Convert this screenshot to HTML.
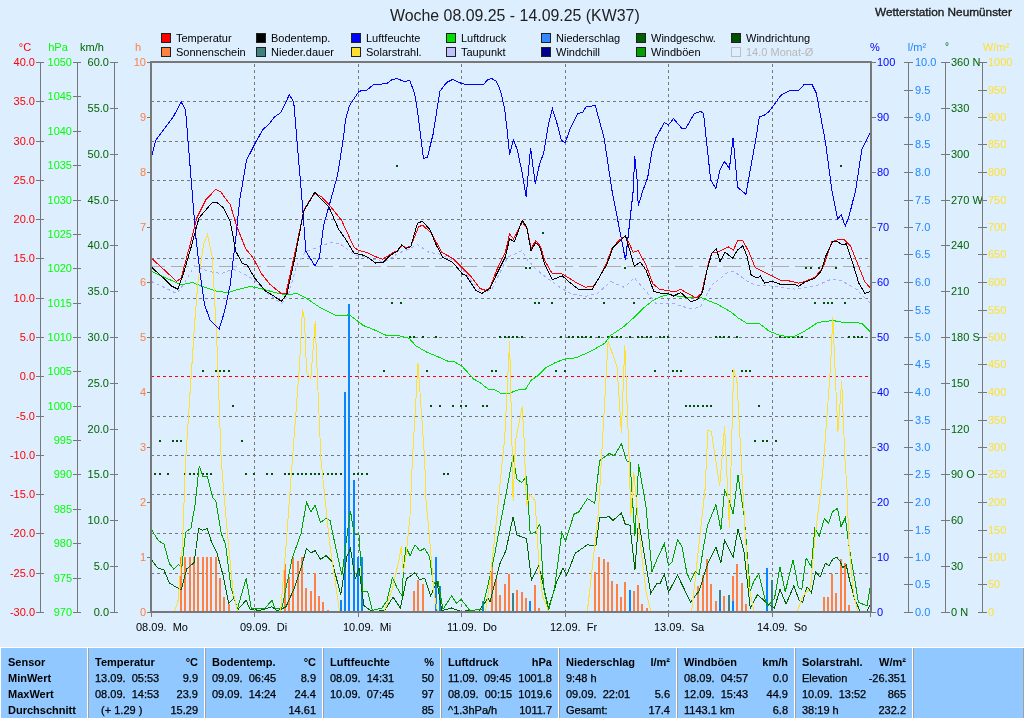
<!DOCTYPE html>
<html><head><meta charset="utf-8"><style>
html,body{margin:0;padding:0;width:1024px;height:718px;overflow:hidden;background:#DDEEFF;}
svg{position:absolute;left:0;top:0;font-family:"Liberation Sans",sans-serif;will-change:transform;}
</style></head><body>
<svg width="1024" height="718" viewBox="0 0 1024 718">
<path d="M151 101.5H870 M151 141.5H870 M151 180.5H870 M151 219.5H870 M151 258.5H870 M151 298.5H870 M151 337.5H870 M151 416.5H870 M151 455.5H870 M151 494.5H870 M151 533.5H870 M151 573.5H870" stroke="#787878" stroke-width="1" stroke-dasharray="3 3" fill="none"/><path d="M151 376.5H870" stroke="#FF0000" stroke-width="1" stroke-dasharray="3 3" fill="none"/><path d="M254.5 64V611 M358.5 64V611 M461.5 64V611 M565.5 64V611 M668.5 64V611 M772.5 64V611" stroke="#787878" stroke-width="1" stroke-dasharray="3 3" fill="none"/><g shape-rendering="crispEdges"><rect x="180" y="557" width="2" height="54" fill="#FF8040"/><rect x="184" y="557" width="2" height="54" fill="#FF8040"/><rect x="189" y="557" width="2" height="54" fill="#FF8040"/><rect x="193" y="557" width="2" height="54" fill="#FF8040"/><rect x="197" y="557" width="2" height="54" fill="#FF8040"/><rect x="202" y="557" width="2" height="54" fill="#FF8040"/><rect x="206" y="557" width="2" height="54" fill="#FF8040"/><rect x="210" y="557" width="2" height="54" fill="#FF8040"/><rect x="215" y="557" width="2" height="54" fill="#FF8040"/><rect x="219" y="578" width="2" height="33" fill="#FF8040"/><rect x="223" y="597" width="2" height="14" fill="#FF8040"/><rect x="228" y="604" width="2" height="7" fill="#FF8040"/><rect x="284" y="564" width="2" height="47" fill="#FF8040"/><rect x="288" y="577" width="2" height="34" fill="#FF8040"/><rect x="292" y="557" width="2" height="54" fill="#FF8040"/><rect x="297" y="561" width="2" height="50" fill="#FF8040"/><rect x="301" y="557" width="2" height="54" fill="#FF8040"/><rect x="305" y="588" width="2" height="23" fill="#FF8040"/><rect x="310" y="591" width="2" height="20" fill="#FF8040"/><rect x="314" y="573" width="2" height="38" fill="#FF8040"/><rect x="318" y="596" width="2" height="15" fill="#FF8040"/><rect x="322" y="602" width="2" height="9" fill="#FF8040"/><rect x="327" y="610" width="2" height="1" fill="#FF8040"/><rect x="413" y="591" width="2" height="20" fill="#FF8040"/><rect x="417" y="580" width="2" height="31" fill="#FF8040"/><rect x="422" y="584" width="2" height="27" fill="#FF8040"/><rect x="491" y="562" width="2" height="49" fill="#FF8040"/><rect x="495" y="579" width="2" height="32" fill="#FF8040"/><rect x="499" y="595" width="2" height="16" fill="#FF8040"/><rect x="504" y="584" width="2" height="27" fill="#FF8040"/><rect x="508" y="574" width="2" height="37" fill="#FF8040"/><rect x="516" y="590" width="2" height="21" fill="#FF8040"/><rect x="521" y="592" width="2" height="19" fill="#FF8040"/><rect x="525" y="598" width="2" height="13" fill="#FF8040"/><rect x="534" y="585" width="2" height="26" fill="#FF8040"/><rect x="538" y="608" width="2" height="3" fill="#FF8040"/><rect x="594" y="572" width="2" height="39" fill="#FF8040"/><rect x="598" y="557" width="2" height="54" fill="#FF8040"/><rect x="603" y="559" width="2" height="52" fill="#FF8040"/><rect x="607" y="562" width="2" height="49" fill="#FF8040"/><rect x="611" y="581" width="2" height="30" fill="#FF8040"/><rect x="616" y="584" width="2" height="27" fill="#FF8040"/><rect x="620" y="597" width="2" height="14" fill="#FF8040"/><rect x="624" y="582" width="2" height="29" fill="#FF8040"/><rect x="629" y="590" width="2" height="21" fill="#FF8040"/><rect x="633" y="591" width="2" height="20" fill="#FF8040"/><rect x="637" y="585" width="2" height="26" fill="#FF8040"/><rect x="641" y="604" width="2" height="7" fill="#FF8040"/><rect x="646" y="608" width="2" height="3" fill="#FF8040"/><rect x="697" y="586" width="2" height="25" fill="#FF8040"/><rect x="702" y="575" width="2" height="36" fill="#FF8040"/><rect x="706" y="559" width="2" height="52" fill="#FF8040"/><rect x="710" y="584" width="2" height="27" fill="#FF8040"/><rect x="715" y="601" width="2" height="10" fill="#FF8040"/><rect x="723" y="596" width="2" height="15" fill="#FF8040"/><rect x="732" y="576" width="2" height="35" fill="#FF8040"/><rect x="736" y="564" width="2" height="47" fill="#FF8040"/><rect x="741" y="583" width="2" height="28" fill="#FF8040"/><rect x="745" y="604" width="2" height="7" fill="#FF8040"/><rect x="823" y="597" width="2" height="14" fill="#FF8040"/><rect x="827" y="597" width="2" height="14" fill="#FF8040"/><rect x="831" y="574" width="2" height="37" fill="#FF8040"/><rect x="835" y="593" width="2" height="18" fill="#FF8040"/><rect x="840" y="559" width="2" height="52" fill="#FF8040"/><rect x="844" y="563" width="2" height="48" fill="#FF8040"/><rect x="848" y="605" width="2" height="6" fill="#FF8040"/><rect x="512" y="593" width="2" height="18" fill="#408080"/><rect x="719" y="590" width="2" height="21" fill="#408080"/><rect x="728" y="595" width="2" height="16" fill="#408080"/><rect x="771" y="580" width="2" height="31" fill="#408080"/><rect x="340" y="600" width="2" height="11" fill="#0A84FF"/><rect x="344" y="392" width="2" height="219" fill="#0A84FF"/><rect x="348" y="304" width="2" height="307" fill="#0A84FF"/><rect x="353" y="480" width="2" height="131" fill="#0A84FF"/><rect x="357" y="557" width="2" height="54" fill="#0A84FF"/><rect x="361" y="557" width="2" height="54" fill="#0A84FF"/><rect x="435" y="557" width="2" height="54" fill="#0A84FF"/><rect x="439" y="586" width="2" height="25" fill="#0A84FF"/><rect x="482" y="601" width="2" height="10" fill="#0A84FF"/><rect x="529" y="601" width="2" height="10" fill="#0A84FF"/><rect x="629" y="590" width="2" height="21" fill="#0A84FF"/><rect x="719" y="601" width="2" height="10" fill="#0A84FF"/><rect x="732" y="601" width="2" height="10" fill="#0A84FF"/><rect x="766" y="568" width="2" height="43" fill="#0A84FF"/><rect x="396" y="165" width="2" height="2" fill="#005000"/><rect x="840" y="165" width="2" height="2" fill="#005000"/><rect x="542" y="232" width="2" height="2" fill="#005000"/><rect x="525" y="267" width="2" height="2" fill="#005000"/><rect x="529" y="267" width="2" height="2" fill="#005000"/><rect x="624" y="267" width="2" height="2" fill="#005000"/><rect x="805" y="267" width="2" height="2" fill="#005000"/><rect x="810" y="267" width="2" height="2" fill="#005000"/><rect x="818" y="267" width="2" height="2" fill="#005000"/><rect x="835" y="267" width="2" height="2" fill="#005000"/><rect x="391" y="302" width="2" height="2" fill="#005000"/><rect x="400" y="302" width="2" height="2" fill="#005000"/><rect x="534" y="302" width="2" height="2" fill="#005000"/><rect x="538" y="302" width="2" height="2" fill="#005000"/><rect x="551" y="302" width="2" height="2" fill="#005000"/><rect x="603" y="302" width="2" height="2" fill="#005000"/><rect x="633" y="302" width="2" height="2" fill="#005000"/><rect x="534" y="302" width="2" height="2" fill="#005000"/><rect x="551" y="302" width="2" height="2" fill="#005000"/><rect x="603" y="302" width="2" height="2" fill="#005000"/><rect x="633" y="302" width="2" height="2" fill="#005000"/><rect x="814" y="302" width="2" height="2" fill="#005000"/><rect x="823" y="302" width="2" height="2" fill="#005000"/><rect x="827" y="302" width="2" height="2" fill="#005000"/><rect x="831" y="302" width="2" height="2" fill="#005000"/><rect x="844" y="302" width="2" height="2" fill="#005000"/><rect x="409" y="336" width="2" height="2" fill="#005000"/><rect x="413" y="336" width="2" height="2" fill="#005000"/><rect x="422" y="336" width="2" height="2" fill="#005000"/><rect x="435" y="336" width="2" height="2" fill="#005000"/><rect x="499" y="336" width="2" height="2" fill="#005000"/><rect x="499" y="336" width="2" height="2" fill="#005000"/><rect x="504" y="336" width="2" height="2" fill="#005000"/><rect x="508" y="336" width="2" height="2" fill="#005000"/><rect x="512" y="336" width="2" height="2" fill="#005000"/><rect x="512" y="336" width="2" height="2" fill="#005000"/><rect x="516" y="336" width="2" height="2" fill="#005000"/><rect x="521" y="336" width="2" height="2" fill="#005000"/><rect x="560" y="336" width="2" height="2" fill="#005000"/><rect x="568" y="336" width="2" height="2" fill="#005000"/><rect x="572" y="336" width="2" height="2" fill="#005000"/><rect x="577" y="336" width="2" height="2" fill="#005000"/><rect x="581" y="336" width="2" height="2" fill="#005000"/><rect x="585" y="336" width="2" height="2" fill="#005000"/><rect x="590" y="336" width="2" height="2" fill="#005000"/><rect x="598" y="336" width="2" height="2" fill="#005000"/><rect x="607" y="336" width="2" height="2" fill="#005000"/><rect x="611" y="336" width="2" height="2" fill="#005000"/><rect x="616" y="336" width="2" height="2" fill="#005000"/><rect x="620" y="336" width="2" height="2" fill="#005000"/><rect x="629" y="336" width="2" height="2" fill="#005000"/><rect x="637" y="336" width="2" height="2" fill="#005000"/><rect x="641" y="336" width="2" height="2" fill="#005000"/><rect x="646" y="336" width="2" height="2" fill="#005000"/><rect x="650" y="336" width="2" height="2" fill="#005000"/><rect x="659" y="336" width="2" height="2" fill="#005000"/><rect x="663" y="336" width="2" height="2" fill="#005000"/><rect x="667" y="336" width="2" height="2" fill="#005000"/><rect x="663" y="336" width="2" height="2" fill="#005000"/><rect x="667" y="336" width="2" height="2" fill="#005000"/><rect x="715" y="336" width="2" height="2" fill="#005000"/><rect x="719" y="336" width="2" height="2" fill="#005000"/><rect x="723" y="336" width="2" height="2" fill="#005000"/><rect x="728" y="336" width="2" height="2" fill="#005000"/><rect x="736" y="336" width="2" height="2" fill="#005000"/><rect x="779" y="336" width="2" height="2" fill="#005000"/><rect x="784" y="336" width="2" height="2" fill="#005000"/><rect x="788" y="336" width="2" height="2" fill="#005000"/><rect x="792" y="336" width="2" height="2" fill="#005000"/><rect x="797" y="336" width="2" height="2" fill="#005000"/><rect x="801" y="336" width="2" height="2" fill="#005000"/><rect x="848" y="336" width="2" height="2" fill="#005000"/><rect x="853" y="336" width="2" height="2" fill="#005000"/><rect x="857" y="336" width="2" height="2" fill="#005000"/><rect x="861" y="336" width="2" height="2" fill="#005000"/><rect x="202" y="370" width="2" height="2" fill="#005000"/><rect x="215" y="370" width="2" height="2" fill="#005000"/><rect x="219" y="370" width="2" height="2" fill="#005000"/><rect x="223" y="370" width="2" height="2" fill="#005000"/><rect x="228" y="370" width="2" height="2" fill="#005000"/><rect x="383" y="370" width="2" height="2" fill="#005000"/><rect x="417" y="370" width="2" height="2" fill="#005000"/><rect x="426" y="370" width="2" height="2" fill="#005000"/><rect x="491" y="370" width="2" height="2" fill="#005000"/><rect x="495" y="370" width="2" height="2" fill="#005000"/><rect x="491" y="370" width="2" height="2" fill="#005000"/><rect x="495" y="370" width="2" height="2" fill="#005000"/><rect x="555" y="370" width="2" height="2" fill="#005000"/><rect x="564" y="370" width="2" height="2" fill="#005000"/><rect x="654" y="370" width="2" height="2" fill="#005000"/><rect x="672" y="370" width="2" height="2" fill="#005000"/><rect x="676" y="370" width="2" height="2" fill="#005000"/><rect x="680" y="370" width="2" height="2" fill="#005000"/><rect x="732" y="370" width="2" height="2" fill="#005000"/><rect x="741" y="370" width="2" height="2" fill="#005000"/><rect x="745" y="370" width="2" height="2" fill="#005000"/><rect x="749" y="370" width="2" height="2" fill="#005000"/><rect x="232" y="405" width="2" height="2" fill="#005000"/><rect x="430" y="405" width="2" height="2" fill="#005000"/><rect x="439" y="405" width="2" height="2" fill="#005000"/><rect x="452" y="405" width="2" height="2" fill="#005000"/><rect x="460" y="405" width="2" height="2" fill="#005000"/><rect x="465" y="405" width="2" height="2" fill="#005000"/><rect x="482" y="405" width="2" height="2" fill="#005000"/><rect x="486" y="405" width="2" height="2" fill="#005000"/><rect x="685" y="405" width="2" height="2" fill="#005000"/><rect x="689" y="405" width="2" height="2" fill="#005000"/><rect x="693" y="405" width="2" height="2" fill="#005000"/><rect x="697" y="405" width="2" height="2" fill="#005000"/><rect x="702" y="405" width="2" height="2" fill="#005000"/><rect x="706" y="405" width="2" height="2" fill="#005000"/><rect x="710" y="405" width="2" height="2" fill="#005000"/><rect x="758" y="405" width="2" height="2" fill="#005000"/><rect x="870" y="405" width="2" height="2" fill="#005000"/><rect x="159" y="440" width="2" height="2" fill="#005000"/><rect x="172" y="440" width="2" height="2" fill="#005000"/><rect x="176" y="440" width="2" height="2" fill="#005000"/><rect x="180" y="440" width="2" height="2" fill="#005000"/><rect x="241" y="440" width="2" height="2" fill="#005000"/><rect x="754" y="440" width="2" height="2" fill="#005000"/><rect x="762" y="440" width="2" height="2" fill="#005000"/><rect x="766" y="440" width="2" height="2" fill="#005000"/><rect x="775" y="440" width="2" height="2" fill="#005000"/><rect x="154" y="473" width="2" height="2" fill="#005000"/><rect x="159" y="473" width="2" height="2" fill="#005000"/><rect x="167" y="473" width="2" height="2" fill="#005000"/><rect x="184" y="473" width="2" height="2" fill="#005000"/><rect x="189" y="473" width="2" height="2" fill="#005000"/><rect x="193" y="473" width="2" height="2" fill="#005000"/><rect x="197" y="473" width="2" height="2" fill="#005000"/><rect x="202" y="473" width="2" height="2" fill="#005000"/><rect x="206" y="473" width="2" height="2" fill="#005000"/><rect x="210" y="473" width="2" height="2" fill="#005000"/><rect x="245" y="473" width="2" height="2" fill="#005000"/><rect x="253" y="473" width="2" height="2" fill="#005000"/><rect x="266" y="473" width="2" height="2" fill="#005000"/><rect x="271" y="473" width="2" height="2" fill="#005000"/><rect x="284" y="473" width="2" height="2" fill="#005000"/><rect x="288" y="473" width="2" height="2" fill="#005000"/><rect x="292" y="473" width="2" height="2" fill="#005000"/><rect x="297" y="473" width="2" height="2" fill="#005000"/><rect x="301" y="473" width="2" height="2" fill="#005000"/><rect x="305" y="473" width="2" height="2" fill="#005000"/><rect x="310" y="473" width="2" height="2" fill="#005000"/><rect x="314" y="473" width="2" height="2" fill="#005000"/><rect x="318" y="473" width="2" height="2" fill="#005000"/><rect x="322" y="473" width="2" height="2" fill="#005000"/><rect x="327" y="473" width="2" height="2" fill="#005000"/><rect x="322" y="473" width="2" height="2" fill="#005000"/><rect x="327" y="473" width="2" height="2" fill="#005000"/><rect x="331" y="473" width="2" height="2" fill="#005000"/><rect x="335" y="473" width="2" height="2" fill="#005000"/><rect x="340" y="473" width="2" height="2" fill="#005000"/><rect x="353" y="473" width="2" height="2" fill="#005000"/><rect x="357" y="473" width="2" height="2" fill="#005000"/><rect x="361" y="473" width="2" height="2" fill="#005000"/><rect x="366" y="473" width="2" height="2" fill="#005000"/><rect x="443" y="473" width="2" height="2" fill="#005000"/><rect x="447" y="473" width="2" height="2" fill="#005000"/></g><path d="M152 266.5H870" stroke="#B4ACA4" stroke-width="1" stroke-dasharray="18 6" stroke-dashoffset="5" fill="none" shape-rendering="crispEdges"/><polyline points="151.1,559.3 157.6,567.9 164.0,570.1 169.4,583.0 174.8,586.3 181.3,589.5 186.7,569.0 194.2,562.5 198.6,528.6 202.9,530.2 207.2,528.6 211.5,542.0 216.9,552.8 223.4,576.6 228.8,603.5 234.2,598.1 237.4,610.0 246.1,600.3 250.4,610.0 254.7,608.9 257.9,611.0 272.0,606.8 277.3,611.0 286.0,606.8 294.6,587.3 301.1,568.0 306.5,548.5 310.8,552.8 315.1,550.7 320.5,559.3 326.1,555.7 332.2,561.8 340.7,594.7 346.8,556.9 350.4,548.4 355.3,578.8 359.0,567.9 363.8,605.6 372.4,611.7 384.5,610.5 393.1,597.1 400.4,608.0 406.5,578.8 415.0,572.7 419.9,580.0 424.7,578.0 430.8,595.9 436.9,581.3 441.8,610.5 451.5,608.0 461.3,611.7 468.6,610.5 478.3,611.7 488.0,598.3 490.0,602.0 499.7,564.2 505.8,550.8 513.1,516.7 516.8,535.0 526.5,538.6 531.4,580.0 538.7,565.4 548.5,608.0 557.0,581.3 563.1,567.9 566.7,575.2 575.2,553.3 587.4,544.7 595.9,546.0 599.6,517.9 609.3,516.7 613.0,520.4 621.5,513.1 625.2,524.0 630.0,525.2 634.9,570.3 638.6,520.4 650.7,593.4 656.8,583.7 660.0,583.8 664.4,574.0 668.5,592.3 677.5,575.2 690.5,602.0 699.0,591.1 707.5,564.3 716.0,547.2 720.9,563.0 724.6,539.9 733.1,557.0 738.0,528.9 744.1,552.1 750.2,608.1 757.5,594.7 767.2,603.3 774.5,608.1 780.0,589.3 786.1,604.1 793.9,585.8 799.2,600.6 802.6,602.4 807.0,586.7 811.4,592.8 815.7,571.9 820.1,577.1 825.3,563.2 828.8,565.8 833.1,558.8 836.6,557.1 840.1,561.4 842.7,567.5 846.2,564.9 849.7,580.6 854.9,599.8 860.1,611.1 867.1,611.1 870.6,604.1" fill="none" stroke="#006400" stroke-width="1" stroke-linejoin="miter" shape-rendering="crispEdges" /><polyline points="151.1,529.1 158.6,540.9 164.0,544.2 169.4,563.6 173.7,569.0 178.1,564.7 181.9,566.8 185.6,532.3 191.0,528.0 195.3,503.2 199.2,466.0 202.9,476.2 207.2,476.2 212.6,497.8 215.8,501.0 221.2,533.4 225.5,544.2 230.9,587.3 237.4,608.9 246.1,578.3 251.4,608.9 255.8,608.9 264.4,608.9 272.0,600.3 275.2,608.9 281.7,608.9 292.5,557.1 301.1,533.4 306.5,502.1 310.8,511.8 315.1,505.3 320.5,522.6 325.9,518.3 330.0,520.4 334.6,542.3 341.9,575.2 346.8,537.4 350.4,510.6 354.1,533.8 359.0,535.0 362.6,591.0 367.5,591.0 372.4,610.5 382.1,608.0 387.0,600.7 392.4,577.7 397.2,588.0 402.0,596.0 403.6,567.0 406.0,547.3 410.1,555.7 415.0,544.7 419.9,550.8 424.7,548.4 429.6,556.9 433.2,583.7 438.1,581.3 443.0,609.3 451.5,595.9 456.4,603.2 461.3,599.5 469.8,610.5 482.0,609.3 488.0,584.9 494.9,553.3 501.0,520.4 507.0,488.7 513.1,455.8 516.8,479.0 521.7,482.6 526.5,476.5 530.2,533.8 535.1,532.5 539.9,524.0 543.6,588.6 548.5,610.5 554.5,588.6 561.8,532.5 565.5,541.1 574.0,514.3 578.9,511.8 587.4,498.5 594.7,503.3 599.6,460.7 609.3,453.4 614.2,455.8 621.5,443.7 626.4,460.7 630.0,461.9 634.9,536.2 638.6,464.4 645.9,505.8 652.0,571.5 658.0,556.9 664.4,543.6 668.5,565.5 672.2,561.8 677.5,539.9 681.9,546.0 686.8,572.8 690.5,581.3 695.3,571.6 699.0,575.2 703.9,544.8 707.5,525.3 716.0,504.6 720.9,530.2 724.6,490.0 729.4,500.9 733.1,514.3 738.0,475.3 744.1,515.5 750.2,591.0 753.8,581.3 758.7,574.0 763.6,593.5 767.2,606.9 774.5,598.4 780.0,566.7 785.2,591.9 793.1,559.7 798.3,587.6 801.8,589.3 806.1,558.0 811.4,566.7 814.8,528.3 819.2,536.2 824.4,518.7 828.8,523.1 832.3,511.8 837.5,508.3 841.0,526.6 845.3,517.9 848.0,538.8 850.6,556.2 854.9,580.6 858.4,602.4 867.1,605.9 870.6,585.0" fill="none" stroke="#00A000" stroke-width="1" stroke-linejoin="miter" shape-rendering="crispEdges" /><polyline points="151.1,281.4 163.4,286.9 176.7,293.6 183.4,284.7 194.6,265.8 207.9,271.3 221.3,273.6 232.4,269.1 243.6,273.6 254.7,280.2 268.1,293.6 281.4,303.6 288.1,295.8 297.0,264.7 305.9,251.3 319.3,246.8 329.8,242.7 339.5,243.6 354.1,254.4 368.8,258.3 384.4,262.2 398.0,253.4 407.8,249.5 417.5,244.6 429.2,252.4 440.9,254.4 456.5,262.2 472.1,281.7 481.9,293.4 491.6,289.5 507.6,257.3 522.2,250.5 526.1,258.3 536.8,270.0 546.6,277.8 560.2,287.5 571.9,294.3 585.6,296.3 597.3,293.4 610.9,281.7 624.6,287.5 634.3,277.8 646.0,291.4 655.8,303.1 674.5,303.9 691.0,309.0 700.4,307.0 711.8,285.2 728.3,271.8 734.5,271.8 747.0,281.1 755.2,285.2 775.9,286.3 796.6,289.4 817.4,285.2 831.8,279.0 842.2,281.1 856.7,289.4 870.8,303.9" fill="none" stroke="#A8A8FF" stroke-width="1" stroke-linejoin="miter" shape-rendering="crispEdges" stroke-dasharray="3 3"/><polyline points="151.1,271.3 163.4,276.9 181.2,284.7 192.3,282.5 203.5,286.9 216.8,291.4 228.0,292.5 239.1,289.2 250.2,286.5 261.4,288.7 274.7,292.5 285.9,294.7 297.0,293.6 305.9,298.0 319.3,307.0 330.0,312.5 335.6,315.1 344.5,316.0 349.0,314.5 353.4,317.8 363.4,325.6 372.4,329.0 386.8,335.6 396.9,335.2 409.1,338.3 415.8,345.7 426.9,352.3 438.1,356.8 448.1,361.3 454.8,361.9 462.6,366.8 473.7,379.1 479.3,382.0 488.2,389.1 496.0,390.2 501.1,393.6 508.9,393.6 516.7,390.2 525.6,389.1 531.2,380.2 537.9,375.7 545.7,367.9 555.7,362.4 566.9,358.4 575.8,357.9 585.8,353.5 594.7,349.0 604.7,343.4 610.3,335.6 623.7,326.7 634.8,316.7 643.7,307.8 652.0,301.2 661.6,296.3 668.3,294.6 684.8,297.2 701.4,297.7 706.8,300.0 718.0,304.5 731.3,312.3 738.0,317.8 746.9,323.4 759.2,323.4 769.2,331.2 780.4,335.7 793.7,336.8 802.7,332.3 818.3,322.3 832.8,320.5 846.1,323.0 855.0,322.3 861.7,323.4 870.7,332.3" fill="none" stroke="#00E000" stroke-width="1" stroke-linejoin="miter" shape-rendering="crispEdges" /><polyline points="151.0,611.0 174.8,611.0 178.1,600.3 182.4,546.3 185.6,460.0 194.9,320.0 197.9,282.5 203.5,244.6 207.5,234.6 212.4,258.0 216.8,340.0 221.2,460.0 226.6,524.8 233.1,591.7 237.4,611.0 280.6,611.0 286.0,546.3 292.0,465.0 299.3,368.0 302.5,309.0 304.5,320.0 306.6,372.2 310.8,378.5 315.2,321.5 317.0,368.0 321.0,460.0 329.8,545.0 339.5,611.0 384.4,611.0 392.0,590.0 399.0,560.0 401.2,546.5 403.3,572.0 406.0,556.0 410.0,516.0 412.4,460.0 418.0,363.5 424.7,460.0 426.0,500.0 429.3,535.0 431.7,564.0 434.0,593.0 437.3,610.5 439.3,611.0 485.6,611.0 490.0,581.3 497.3,513.0 502.3,460.0 504.6,440.0 509.6,341.2 511.9,440.0 513.1,500.9 515.6,440.0 522.3,406.5 524.1,440.0 526.5,505.8 530.2,494.8 535.1,500.9 538.7,561.8 542.4,595.9 548.5,611.0 587.4,611.0 598.4,513.0 601.4,460.0 608.1,341.2 617.0,366.8 621.4,432.5 624.8,344.6 629.2,460.0 630.8,516.7 633.7,471.7 637.3,510.6 641.0,549.6 645.9,591.0 650.7,611.0 691.7,611.0 705.1,488.7 707.9,430.4 711.3,431.5 719.7,486.3 724.6,426.0 729.4,527.7 733.6,368.7 736.9,380.2 745.3,535.0 748.9,586.2 753.8,611.0 797.4,611.0 802.6,596.3 810.5,587.6 814.8,538.8 820.9,490.0 823.8,460.0 830.5,366.9 832.8,316.7 836.1,393.6 837.9,431.5 841.7,381.4 845.0,460.0 847.1,490.0 848.8,542.3 853.2,591.0 857.5,611.0 871.0,611.0" fill="none" stroke="#FFE030" stroke-width="1" stroke-linejoin="miter" shape-rendering="crispEdges" /><polyline points="151.6,156.5 155.9,140.0 173.4,116.6 181.2,101.9 185.5,109.7 191.2,180.0 195.7,235.7 200.1,273.6 204.6,304.7 210.1,320.3 219.1,329.3 224.6,311.4 230.2,284.7 235.8,237.9 239.7,200.0 246.5,160.4 255.3,142.9 263.1,129.2 268.0,125.3 274.8,116.6 280.7,112.7 289.4,94.7 293.7,101.9 302.0,200.0 305.9,251.3 314.8,265.8 319.3,258.0 323.8,224.6 330.7,200.0 337.6,175.0 343.4,138.0 345.4,120.5 349.3,105.8 353.2,100.0 359.0,91.2 366.8,90.2 373.6,84.4 386.3,83.8 392.2,79.5 397.0,78.5 403.9,81.5 409.7,80.5 414.6,93.2 417.5,110.7 423.4,158.5 427.3,157.5 433.1,134.1 439.9,91.2 446.8,82.4 452.6,79.5 458.5,82.4 465.3,84.4 483.8,84.4 487.7,79.5 491.6,78.5 496.5,81.5 500.7,91.2 504.6,108.8 507.6,134.1 509.5,154.6 513.4,140.0 517.3,149.7 522.2,173.1 526.1,196.5 530.6,147.8 535.2,183.8 539.7,163.4 543.6,153.6 548.5,124.4 552.4,108.8 557.3,124.4 561.2,140.0 565.1,142.9 570.0,129.2 577.8,113.6 582.6,112.3 586.5,106.4 595.3,105.8 604.1,138.0 611.9,190.0 625.5,260.2 633.3,190.0 634.7,155.6 637.2,180.9 638.2,205.6 643.1,190.0 647.6,178.0 651.9,151.7 655.8,138.0 664.5,122.4 668.3,125.2 673.5,118.6 681.7,128.3 685.9,128.3 694.2,113.8 700.4,111.3 703.5,113.4 710.7,180.1 715.9,188.4 720.0,169.7 724.6,161.4 729.4,168.7 733.1,137.6 737.6,187.3 745.9,194.2 756.3,136.6 759.4,116.3 763.5,115.9 768.7,111.8 781.1,95.2 789.4,90.6 798.3,90.6 803.9,84.8 812.2,84.8 816.3,93.1 825.6,142.8 831.8,190.0 837.6,219.0 841.2,214.8 845.3,226.2 849.4,214.8 855.7,190.0 861.9,149.0 870.8,131.4" fill="none" stroke="#0000FF" stroke-width="1" stroke-linejoin="miter" shape-rendering="crispEdges" /><polyline points="151.1,258.0 163.4,269.1 176.7,281.4 181.2,278.0 190.1,244.6 196.8,217.9 205.7,200.0 215.7,189.4 221.3,192.3 225.7,198.9 230.2,204.5 236.9,226.8 245.8,249.0 252.5,256.9 261.4,273.6 270.3,284.7 281.4,293.6 285.9,293.6 294.8,253.5 303.7,211.2 308.2,202.3 314.8,193.4 321.5,196.7 329.8,205.6 341.5,220.2 354.1,247.5 359.0,250.5 366.8,252.4 374.6,256.3 382.4,259.2 387.3,256.3 393.1,252.4 398.0,250.5 401.9,245.6 405.8,247.5 410.7,246.6 418.5,227.0 422.4,225.1 431.2,232.9 441.9,252.4 452.6,258.3 464.3,270.0 472.1,277.8 479.9,288.5 485.8,290.4 490.0,287.5 496.8,270.0 505.6,251.4 509.5,233.9 513.4,238.8 522.2,222.2 527.1,228.0 531.0,248.5 535.8,240.7 540.7,246.6 544.6,260.2 552.4,273.9 561.2,273.5 570.0,278.7 577.8,283.6 585.6,287.1 593.4,286.5 599.2,277.8 607.0,262.2 611.9,248.5 618.7,240.7 625.5,235.8 633.3,252.4 638.2,250.5 646.0,265.1 652.8,283.6 659.7,289.5 667.2,290.4 674.5,291.9 680.7,289.4 688.0,293.5 696.2,298.1 701.4,293.5 708.7,262.5 711.8,253.1 719.0,251.7 728.3,246.9 733.5,250.0 737.6,240.7 742.8,240.7 749.0,252.1 755.2,267.6 763.5,271.8 771.8,275.9 780.1,280.1 790.4,281.1 798.7,283.2 807.0,280.7 815.3,277.0 823.6,266.6 831.8,241.8 838.1,239.7 844.3,239.7 850.5,245.9 858.8,266.6 865.0,282.1 870.8,288.3" fill="none" stroke="#FF0000" stroke-width="1" stroke-linejoin="miter" shape-rendering="crispEdges" /><polyline points="151.1,266.9 163.4,278.0 171.2,285.8 177.8,289.2 183.4,273.6 191.2,246.8 199.0,217.9 212.4,202.3 216.8,202.3 223.5,207.8 230.2,221.2 235.8,251.3 242.4,263.5 246.9,264.7 254.7,278.0 265.8,291.4 273.6,295.8 281.4,301.4 287.0,293.6 294.8,258.0 303.7,211.2 314.8,192.3 320.0,197.8 328.8,206.6 338.5,229.0 345.4,238.8 354.1,253.4 361.0,254.4 367.8,257.3 375.6,263.1 383.4,262.2 390.2,255.3 397.0,251.4 401.5,245.0 405.8,248.5 410.7,246.9 417.5,223.2 422.4,221.2 430.2,230.0 436.0,244.6 442.9,257.3 452.6,262.2 462.4,273.9 466.3,275.8 476.0,290.4 481.9,293.4 490.0,288.5 496.8,273.9 505.6,256.3 509.5,238.8 514.4,241.7 522.2,220.2 526.7,227.0 531.0,250.5 535.8,242.7 539.7,246.6 544.6,264.1 552.4,279.7 562.2,275.8 570.0,282.6 578.7,289.5 592.4,289.1 607.0,264.1 612.9,247.5 625.5,235.8 634.3,266.1 640.2,262.2 646.0,270.0 653.8,291.4 661.6,293.4 668.3,293.5 673.5,296.0 680.7,292.5 691.0,301.8 697.3,299.7 702.4,292.5 706.6,271.8 711.8,253.1 716.3,248.6 720.0,261.4 725.2,252.1 732.5,258.3 737.6,250.0 742.8,245.9 747.0,256.3 751.1,274.9 757.3,278.0 760.4,275.9 764.6,283.2 771.8,281.1 780.1,284.2 794.6,284.2 798.7,286.3 804.9,282.1 815.3,278.0 821.5,270.7 825.6,256.3 832.9,241.3 837.0,241.3 842.2,244.9 846.3,243.8 852.5,262.5 858.8,283.2 865.0,293.5 870.8,291.4" fill="none" stroke="#000000" stroke-width="1" stroke-linejoin="miter" shape-rendering="crispEdges" /><rect x="151" y="62" width="720" height="550" fill="none" stroke="#787878" stroke-width="2"/><path d="M40.5 62V612 M36 62.5H44 M36 101.5H44 M36 141.5H44 M36 180.5H44 M36 219.5H44 M36 258.5H44 M36 298.5H44 M36 337.5H44 M36 376.5H44 M36 416.5H44 M36 455.5H44 M36 494.5H44 M36 533.5H44 M36 573.5H44 M36 612.5H44" stroke="#787878" stroke-width="1" fill="none"/><text x="35" y="66" fill="#FF0000" text-anchor="end" font-size="11" font-weight="normal" >40.0</text><text x="35" y="105" fill="#FF0000" text-anchor="end" font-size="11" font-weight="normal" >35.0</text><text x="35" y="145" fill="#FF0000" text-anchor="end" font-size="11" font-weight="normal" >30.0</text><text x="35" y="184" fill="#FF0000" text-anchor="end" font-size="11" font-weight="normal" >25.0</text><text x="35" y="223" fill="#FF0000" text-anchor="end" font-size="11" font-weight="normal" >20.0</text><text x="35" y="262" fill="#FF0000" text-anchor="end" font-size="11" font-weight="normal" >15.0</text><text x="35" y="302" fill="#FF0000" text-anchor="end" font-size="11" font-weight="normal" >10.0</text><text x="35" y="341" fill="#FF0000" text-anchor="end" font-size="11" font-weight="normal" >5.0</text><text x="35" y="380" fill="#FF0000" text-anchor="end" font-size="11" font-weight="normal" >0.0</text><text x="35" y="420" fill="#FF0000" text-anchor="end" font-size="11" font-weight="normal" >-5.0</text><text x="35" y="459" fill="#FF0000" text-anchor="end" font-size="11" font-weight="normal" >-10.0</text><text x="35" y="498" fill="#FF0000" text-anchor="end" font-size="11" font-weight="normal" >-15.0</text><text x="35" y="537" fill="#FF0000" text-anchor="end" font-size="11" font-weight="normal" >-20.0</text><text x="35" y="577" fill="#FF0000" text-anchor="end" font-size="11" font-weight="normal" >-25.0</text><text x="35" y="616" fill="#FF0000" text-anchor="end" font-size="11" font-weight="normal" >-30.0</text><path d="M77.5 62V612 M73 62.5H81 M73 96.5H81 M73 131.5H81 M73 165.5H81 M73 200.5H81 M73 234.5H81 M73 268.5H81 M73 303.5H81 M73 337.5H81 M73 371.5H81 M73 406.5H81 M73 440.5H81 M73 474.5H81 M73 509.5H81 M73 543.5H81 M73 578.5H81 M73 612.5H81" stroke="#787878" stroke-width="1" fill="none"/><text x="72" y="66" fill="#00FF00" text-anchor="end" font-size="11" font-weight="normal" >1050</text><text x="72" y="100" fill="#00FF00" text-anchor="end" font-size="11" font-weight="normal" >1045</text><text x="72" y="135" fill="#00FF00" text-anchor="end" font-size="11" font-weight="normal" >1040</text><text x="72" y="169" fill="#00FF00" text-anchor="end" font-size="11" font-weight="normal" >1035</text><text x="72" y="204" fill="#00FF00" text-anchor="end" font-size="11" font-weight="normal" >1030</text><text x="72" y="238" fill="#00FF00" text-anchor="end" font-size="11" font-weight="normal" >1025</text><text x="72" y="272" fill="#00FF00" text-anchor="end" font-size="11" font-weight="normal" >1020</text><text x="72" y="307" fill="#00FF00" text-anchor="end" font-size="11" font-weight="normal" >1015</text><text x="72" y="341" fill="#00FF00" text-anchor="end" font-size="11" font-weight="normal" >1010</text><text x="72" y="375" fill="#00FF00" text-anchor="end" font-size="11" font-weight="normal" >1005</text><text x="72" y="410" fill="#00FF00" text-anchor="end" font-size="11" font-weight="normal" >1000</text><text x="72" y="444" fill="#00FF00" text-anchor="end" font-size="11" font-weight="normal" >995</text><text x="72" y="478" fill="#00FF00" text-anchor="end" font-size="11" font-weight="normal" >990</text><text x="72" y="513" fill="#00FF00" text-anchor="end" font-size="11" font-weight="normal" >985</text><text x="72" y="547" fill="#00FF00" text-anchor="end" font-size="11" font-weight="normal" >980</text><text x="72" y="582" fill="#00FF00" text-anchor="end" font-size="11" font-weight="normal" >975</text><text x="72" y="616" fill="#00FF00" text-anchor="end" font-size="11" font-weight="normal" >970</text><path d="M114.5 62V612 M110 62.5H118 M110 108.5H118 M110 154.5H118 M110 200.5H118 M110 245.5H118 M110 291.5H118 M110 337.5H118 M110 383.5H118 M110 429.5H118 M110 474.5H118 M110 520.5H118 M110 566.5H118 M110 612.5H118" stroke="#787878" stroke-width="1" fill="none"/><text x="109" y="66" fill="#006400" text-anchor="end" font-size="11" font-weight="normal" >60.0</text><text x="109" y="112" fill="#006400" text-anchor="end" font-size="11" font-weight="normal" >55.0</text><text x="109" y="158" fill="#006400" text-anchor="end" font-size="11" font-weight="normal" >50.0</text><text x="109" y="204" fill="#006400" text-anchor="end" font-size="11" font-weight="normal" >45.0</text><text x="109" y="249" fill="#006400" text-anchor="end" font-size="11" font-weight="normal" >40.0</text><text x="109" y="295" fill="#006400" text-anchor="end" font-size="11" font-weight="normal" >35.0</text><text x="109" y="341" fill="#006400" text-anchor="end" font-size="11" font-weight="normal" >30.0</text><text x="109" y="387" fill="#006400" text-anchor="end" font-size="11" font-weight="normal" >25.0</text><text x="109" y="433" fill="#006400" text-anchor="end" font-size="11" font-weight="normal" >20.0</text><text x="109" y="478" fill="#006400" text-anchor="end" font-size="11" font-weight="normal" >15.0</text><text x="109" y="524" fill="#006400" text-anchor="end" font-size="11" font-weight="normal" >10.0</text><text x="109" y="570" fill="#006400" text-anchor="end" font-size="11" font-weight="normal" >5.0</text><text x="109" y="616" fill="#006400" text-anchor="end" font-size="11" font-weight="normal" >0.0</text><path d="M147 62.5H151 M147 117.5H151 M147 172.5H151 M147 227.5H151 M147 282.5H151 M147 337.5H151 M147 392.5H151 M147 447.5H151 M147 502.5H151 M147 557.5H151 M147 612.5H151 M151.5 612V617 M254.5 612V617 M358.5 612V617 M461.5 612V617 M565.5 612V617 M668.5 612V617 M772.5 612V617 M870.5 612V617" stroke="#787878" stroke-width="1" fill="none"/><text x="146" y="66" fill="#FF8040" text-anchor="end" font-size="11" font-weight="normal" >10</text><text x="146" y="121" fill="#FF8040" text-anchor="end" font-size="11" font-weight="normal" >9</text><text x="146" y="176" fill="#FF8040" text-anchor="end" font-size="11" font-weight="normal" >8</text><text x="146" y="231" fill="#FF8040" text-anchor="end" font-size="11" font-weight="normal" >7</text><text x="146" y="286" fill="#FF8040" text-anchor="end" font-size="11" font-weight="normal" >6</text><text x="146" y="341" fill="#FF8040" text-anchor="end" font-size="11" font-weight="normal" >5</text><text x="146" y="396" fill="#FF8040" text-anchor="end" font-size="11" font-weight="normal" >4</text><text x="146" y="451" fill="#FF8040" text-anchor="end" font-size="11" font-weight="normal" >3</text><text x="146" y="506" fill="#FF8040" text-anchor="end" font-size="11" font-weight="normal" >2</text><text x="146" y="561" fill="#FF8040" text-anchor="end" font-size="11" font-weight="normal" >1</text><text x="146" y="616" fill="#FF8040" text-anchor="end" font-size="11" font-weight="normal" >0</text><path d="M871 62.5H876 M871 117.5H876 M871 172.5H876 M871 227.5H876 M871 282.5H876 M871 337.5H876 M871 392.5H876 M871 447.5H876 M871 502.5H876 M871 557.5H876 M871 612.5H876" stroke="#787878" stroke-width="1" fill="none"/><text x="877" y="66" fill="#0000FF" text-anchor="start" font-size="11" font-weight="normal" >100</text><text x="877" y="121" fill="#0000FF" text-anchor="start" font-size="11" font-weight="normal" >90</text><text x="877" y="176" fill="#0000FF" text-anchor="start" font-size="11" font-weight="normal" >80</text><text x="877" y="231" fill="#0000FF" text-anchor="start" font-size="11" font-weight="normal" >70</text><text x="877" y="286" fill="#0000FF" text-anchor="start" font-size="11" font-weight="normal" >60</text><text x="877" y="341" fill="#0000FF" text-anchor="start" font-size="11" font-weight="normal" >50</text><text x="877" y="396" fill="#0000FF" text-anchor="start" font-size="11" font-weight="normal" >40</text><text x="877" y="451" fill="#0000FF" text-anchor="start" font-size="11" font-weight="normal" >30</text><text x="877" y="506" fill="#0000FF" text-anchor="start" font-size="11" font-weight="normal" >20</text><text x="877" y="561" fill="#0000FF" text-anchor="start" font-size="11" font-weight="normal" >10</text><text x="877" y="616" fill="#0000FF" text-anchor="start" font-size="11" font-weight="normal" >0</text><path d="M908.5 62V612 M904 62.5H913 M904 90.5H913 M904 117.5H913 M904 144.5H913 M904 172.5H913 M904 200.5H913 M904 227.5H913 M904 254.5H913 M904 282.5H913 M904 310.5H913 M904 337.5H913 M904 364.5H913 M904 392.5H913 M904 420.5H913 M904 447.5H913 M904 474.5H913 M904 502.5H913 M904 530.5H913 M904 557.5H913 M904 584.5H913 M904 612.5H913" stroke="#787878" stroke-width="1" fill="none"/><text x="915" y="66" fill="#2088FF" text-anchor="start" font-size="11" font-weight="normal" >10.0</text><text x="915" y="94" fill="#2088FF" text-anchor="start" font-size="11" font-weight="normal" >9.5</text><text x="915" y="121" fill="#2088FF" text-anchor="start" font-size="11" font-weight="normal" >9.0</text><text x="915" y="148" fill="#2088FF" text-anchor="start" font-size="11" font-weight="normal" >8.5</text><text x="915" y="176" fill="#2088FF" text-anchor="start" font-size="11" font-weight="normal" >8.0</text><text x="915" y="204" fill="#2088FF" text-anchor="start" font-size="11" font-weight="normal" >7.5</text><text x="915" y="231" fill="#2088FF" text-anchor="start" font-size="11" font-weight="normal" >7.0</text><text x="915" y="258" fill="#2088FF" text-anchor="start" font-size="11" font-weight="normal" >6.5</text><text x="915" y="286" fill="#2088FF" text-anchor="start" font-size="11" font-weight="normal" >6.0</text><text x="915" y="314" fill="#2088FF" text-anchor="start" font-size="11" font-weight="normal" >5.5</text><text x="915" y="341" fill="#2088FF" text-anchor="start" font-size="11" font-weight="normal" >5.0</text><text x="915" y="368" fill="#2088FF" text-anchor="start" font-size="11" font-weight="normal" >4.5</text><text x="915" y="396" fill="#2088FF" text-anchor="start" font-size="11" font-weight="normal" >4.0</text><text x="915" y="424" fill="#2088FF" text-anchor="start" font-size="11" font-weight="normal" >3.5</text><text x="915" y="451" fill="#2088FF" text-anchor="start" font-size="11" font-weight="normal" >3.0</text><text x="915" y="478" fill="#2088FF" text-anchor="start" font-size="11" font-weight="normal" >2.5</text><text x="915" y="506" fill="#2088FF" text-anchor="start" font-size="11" font-weight="normal" >2.0</text><text x="915" y="534" fill="#2088FF" text-anchor="start" font-size="11" font-weight="normal" >1.5</text><text x="915" y="561" fill="#2088FF" text-anchor="start" font-size="11" font-weight="normal" >1.0</text><text x="915" y="588" fill="#2088FF" text-anchor="start" font-size="11" font-weight="normal" >0.5</text><text x="915" y="616" fill="#2088FF" text-anchor="start" font-size="11" font-weight="normal" >0.0</text><path d="M945.5 62V612 M941 62.5H950 M941 108.5H950 M941 154.5H950 M941 200.5H950 M941 245.5H950 M941 291.5H950 M941 337.5H950 M941 383.5H950 M941 429.5H950 M941 474.5H950 M941 520.5H950 M941 566.5H950 M941 612.5H950" stroke="#787878" stroke-width="1" fill="none"/><text x="951" y="66" fill="#006400" text-anchor="start" font-size="11" font-weight="normal" >360 N</text><text x="951" y="112" fill="#006400" text-anchor="start" font-size="11" font-weight="normal" >330</text><text x="951" y="158" fill="#006400" text-anchor="start" font-size="11" font-weight="normal" >300</text><text x="951" y="204" fill="#006400" text-anchor="start" font-size="11" font-weight="normal" >270 W</text><text x="951" y="249" fill="#006400" text-anchor="start" font-size="11" font-weight="normal" >240</text><text x="951" y="295" fill="#006400" text-anchor="start" font-size="11" font-weight="normal" >210</text><text x="951" y="341" fill="#006400" text-anchor="start" font-size="11" font-weight="normal" >180 S</text><text x="951" y="387" fill="#006400" text-anchor="start" font-size="11" font-weight="normal" >150</text><text x="951" y="433" fill="#006400" text-anchor="start" font-size="11" font-weight="normal" >120</text><text x="951" y="478" fill="#006400" text-anchor="start" font-size="11" font-weight="normal" >90 O</text><text x="951" y="524" fill="#006400" text-anchor="start" font-size="11" font-weight="normal" >60</text><text x="951" y="570" fill="#006400" text-anchor="start" font-size="11" font-weight="normal" >30</text><text x="951" y="616" fill="#006400" text-anchor="start" font-size="11" font-weight="normal" >0 N</text><path d="M982.5 62V612 M978 62.5H987 M978 90.5H987 M978 117.5H987 M978 144.5H987 M978 172.5H987 M978 200.5H987 M978 227.5H987 M978 254.5H987 M978 282.5H987 M978 310.5H987 M978 337.5H987 M978 364.5H987 M978 392.5H987 M978 420.5H987 M978 447.5H987 M978 474.5H987 M978 502.5H987 M978 530.5H987 M978 557.5H987 M978 584.5H987 M978 612.5H987" stroke="#787878" stroke-width="1" fill="none"/><text x="988" y="66" fill="#FFE030" text-anchor="start" font-size="11" font-weight="normal" >1000</text><text x="988" y="94" fill="#FFE030" text-anchor="start" font-size="11" font-weight="normal" >950</text><text x="988" y="121" fill="#FFE030" text-anchor="start" font-size="11" font-weight="normal" >900</text><text x="988" y="148" fill="#FFE030" text-anchor="start" font-size="11" font-weight="normal" >850</text><text x="988" y="176" fill="#FFE030" text-anchor="start" font-size="11" font-weight="normal" >800</text><text x="988" y="204" fill="#FFE030" text-anchor="start" font-size="11" font-weight="normal" >750</text><text x="988" y="231" fill="#FFE030" text-anchor="start" font-size="11" font-weight="normal" >700</text><text x="988" y="258" fill="#FFE030" text-anchor="start" font-size="11" font-weight="normal" >650</text><text x="988" y="286" fill="#FFE030" text-anchor="start" font-size="11" font-weight="normal" >600</text><text x="988" y="314" fill="#FFE030" text-anchor="start" font-size="11" font-weight="normal" >550</text><text x="988" y="341" fill="#FFE030" text-anchor="start" font-size="11" font-weight="normal" >500</text><text x="988" y="368" fill="#FFE030" text-anchor="start" font-size="11" font-weight="normal" >450</text><text x="988" y="396" fill="#FFE030" text-anchor="start" font-size="11" font-weight="normal" >400</text><text x="988" y="424" fill="#FFE030" text-anchor="start" font-size="11" font-weight="normal" >350</text><text x="988" y="451" fill="#FFE030" text-anchor="start" font-size="11" font-weight="normal" >300</text><text x="988" y="478" fill="#FFE030" text-anchor="start" font-size="11" font-weight="normal" >250</text><text x="988" y="506" fill="#FFE030" text-anchor="start" font-size="11" font-weight="normal" >200</text><text x="988" y="534" fill="#FFE030" text-anchor="start" font-size="11" font-weight="normal" >150</text><text x="988" y="561" fill="#FFE030" text-anchor="start" font-size="11" font-weight="normal" >100</text><text x="988" y="588" fill="#FFE030" text-anchor="start" font-size="11" font-weight="normal" >50</text><text x="988" y="616" fill="#FFE030" text-anchor="start" font-size="11" font-weight="normal" >0</text><text x="25" y="51" fill="#FF0000" text-anchor="middle" font-size="11" font-weight="normal" >°C</text><text x="58" y="51" fill="#00FF00" text-anchor="middle" font-size="11" font-weight="normal" >hPa</text><text x="92" y="51" fill="#006400" text-anchor="middle" font-size="11" font-weight="normal" >km/h</text><text x="138" y="51" fill="#FF8040" text-anchor="middle" font-size="11" font-weight="normal" >h</text><text x="875" y="51" fill="#0000FF" text-anchor="middle" font-size="11" font-weight="normal" >%</text><text x="917" y="51" fill="#2088FF" text-anchor="middle" font-size="11" font-weight="normal" >l/m²</text><text x="947" y="50" fill="#006400" text-anchor="middle" font-size="10" font-weight="normal" >°</text><text x="996" y="51" fill="#FFE030" text-anchor="middle" font-size="11" font-weight="normal" >W/m²</text><text x="136" y="630.5" fill="#000" text-anchor="start" font-size="11" font-weight="normal" >08.09.&#160;&#160;Mo</text><text x="240" y="630.5" fill="#000" text-anchor="start" font-size="11" font-weight="normal" >09.09.&#160;&#160;Di</text><text x="343" y="630.5" fill="#000" text-anchor="start" font-size="11" font-weight="normal" >10.09.&#160;&#160;Mi</text><text x="447" y="630.5" fill="#000" text-anchor="start" font-size="11" font-weight="normal" >11.09.&#160;&#160;Do</text><text x="550" y="630.5" fill="#000" text-anchor="start" font-size="11" font-weight="normal" >12.09.&#160;&#160;Fr</text><text x="654" y="630.5" fill="#000" text-anchor="start" font-size="11" font-weight="normal" >13.09.&#160;&#160;Sa</text><text x="757" y="630.5" fill="#000" text-anchor="start" font-size="11" font-weight="normal" >14.09.&#160;&#160;So</text><text x="390" y="20.5" fill="#202020" text-anchor="start" font-size="15.9" font-weight="normal" >Woche 08.09.25 - 14.09.25 (KW37)</text><text x="875" y="16" fill="#1A1A1A" text-anchor="start" font-size="11.8" font-weight="normal" stroke="#1A1A1A" stroke-width="0.35">Wetterstation Neumünster</text><rect x="161.5" y="33.5" width="9" height="9" fill="#FF0000" stroke="#202020"/><text x="176" y="42" fill="#000" text-anchor="start" font-size="11" font-weight="normal" >Temperatur</text><rect x="161.5" y="47.5" width="9" height="9" fill="#FF8040" stroke="#202020"/><text x="176" y="56" fill="#000" text-anchor="start" font-size="11" font-weight="normal" >Sonnenschein</text><rect x="256.5" y="33.5" width="9" height="9" fill="#000000" stroke="#202020"/><text x="271" y="42" fill="#000" text-anchor="start" font-size="11" font-weight="normal" >Bodentemp.</text><rect x="256.5" y="47.5" width="9" height="9" fill="#408080" stroke="#202020"/><text x="271" y="56" fill="#000" text-anchor="start" font-size="11" font-weight="normal" >Nieder.dauer</text><rect x="351.5" y="33.5" width="9" height="9" fill="#0000FF" stroke="#202020"/><text x="366" y="42" fill="#000" text-anchor="start" font-size="11" font-weight="normal" >Luftfeuchte</text><rect x="351.5" y="47.5" width="9" height="9" fill="#FFE030" stroke="#202020"/><text x="366" y="56" fill="#000" text-anchor="start" font-size="11" font-weight="normal" >Solarstrahl.</text><rect x="446.5" y="33.5" width="9" height="9" fill="#00E000" stroke="#202020"/><text x="461" y="42" fill="#000" text-anchor="start" font-size="11" font-weight="normal" >Luftdruck</text><rect x="446.5" y="47.5" width="9" height="9" fill="#C0C0FF" stroke="#202020"/><text x="461" y="56" fill="#000" text-anchor="start" font-size="11" font-weight="normal" >Taupunkt</text><rect x="541.5" y="33.5" width="9" height="9" fill="#3388FF" stroke="#202020"/><text x="556" y="42" fill="#000" text-anchor="start" font-size="11" font-weight="normal" >Niederschlag</text><rect x="541.5" y="47.5" width="9" height="9" fill="#000090" stroke="#202020"/><text x="556" y="56" fill="#000" text-anchor="start" font-size="11" font-weight="normal" >Windchill</text><rect x="636.5" y="33.5" width="9" height="9" fill="#006000" stroke="#202020"/><text x="651" y="42" fill="#000" text-anchor="start" font-size="11" font-weight="normal" >Windgeschw.</text><rect x="636.5" y="47.5" width="9" height="9" fill="#00A000" stroke="#202020"/><text x="651" y="56" fill="#000" text-anchor="start" font-size="11" font-weight="normal" >Windböen</text><rect x="731.5" y="33.5" width="9" height="9" fill="#005000" stroke="#202020"/><text x="746" y="42" fill="#000" text-anchor="start" font-size="11" font-weight="normal" >Windrichtung</text><rect x="731.5" y="47.5" width="9" height="9" fill="none" stroke="#C0C0C0"/><text x="746" y="56" fill="#B8B8B8" text-anchor="start" font-size="11" font-weight="normal" >14.0 Monat-Ø</text>
<rect x="0" y="647" width="1024" height="71" fill="#FFFFFF"/><rect x="1" y="648" width="1022" height="70" fill="#90C8FF"/><rect x="87" y="648" width="1" height="70" fill="#FFFFFF"/><rect x="88" y="648" width="1" height="70" fill="#A0A0A0"/><rect x="204" y="648" width="1" height="70" fill="#FFFFFF"/><rect x="205" y="648" width="1" height="70" fill="#A0A0A0"/><rect x="322" y="648" width="1" height="70" fill="#FFFFFF"/><rect x="323" y="648" width="1" height="70" fill="#A0A0A0"/><rect x="440" y="648" width="1" height="70" fill="#FFFFFF"/><rect x="441" y="648" width="1" height="70" fill="#A0A0A0"/><rect x="558" y="648" width="1" height="70" fill="#FFFFFF"/><rect x="559" y="648" width="1" height="70" fill="#A0A0A0"/><rect x="676" y="648" width="1" height="70" fill="#FFFFFF"/><rect x="677" y="648" width="1" height="70" fill="#A0A0A0"/><rect x="794" y="648" width="1" height="70" fill="#FFFFFF"/><rect x="795" y="648" width="1" height="70" fill="#A0A0A0"/><rect x="912" y="648" width="1" height="70" fill="#FFFFFF"/><rect x="913" y="648" width="1" height="70" fill="#A0A0A0"/><rect x="1023" y="648" width="1" height="70" fill="#A0A0A0"/><text x="8" y="666" fill="#000" text-anchor="start" font-size="11" font-weight="bold">Sensor</text><text x="8" y="682" fill="#000" text-anchor="start" font-size="11" font-weight="bold">MinWert</text><text x="8" y="698" fill="#000" text-anchor="start" font-size="11" font-weight="bold">MaxWert</text><text x="8" y="714" fill="#000" text-anchor="start" font-size="11" font-weight="bold">Durchschnitt</text><text x="95" y="666" fill="#000" text-anchor="start" font-size="11" font-weight="bold">Temperatur</text><text x="198" y="666" fill="#000" text-anchor="end" font-size="11" font-weight="bold">°C</text><text x="95" y="682" fill="#000" text-anchor="start" font-size="11" font-weight="normal" stroke="#000" stroke-width="0.25">13.09.&#160;&#160;05:53</text><text x="198" y="682" fill="#000" text-anchor="end" font-size="11" font-weight="normal" stroke="#000" stroke-width="0.25">9.9</text><text x="95" y="698" fill="#000" text-anchor="start" font-size="11" font-weight="normal" stroke="#000" stroke-width="0.25">08.09.&#160;&#160;14:53</text><text x="198" y="698" fill="#000" text-anchor="end" font-size="11" font-weight="normal" stroke="#000" stroke-width="0.25">23.9</text><text x="95" y="714" fill="#000" text-anchor="start" font-size="11" font-weight="normal" stroke="#000" stroke-width="0.25">&#160;&#160;(+ 1.29 )</text><text x="198" y="714" fill="#000" text-anchor="end" font-size="11" font-weight="normal" stroke="#000" stroke-width="0.25">15.29</text><text x="212" y="666" fill="#000" text-anchor="start" font-size="11" font-weight="bold">Bodentemp.</text><text x="316" y="666" fill="#000" text-anchor="end" font-size="11" font-weight="bold">°C</text><text x="212" y="682" fill="#000" text-anchor="start" font-size="11" font-weight="normal" stroke="#000" stroke-width="0.25">09.09.&#160;&#160;06:45</text><text x="316" y="682" fill="#000" text-anchor="end" font-size="11" font-weight="normal" stroke="#000" stroke-width="0.25">8.9</text><text x="212" y="698" fill="#000" text-anchor="start" font-size="11" font-weight="normal" stroke="#000" stroke-width="0.25">09.09.&#160;&#160;14:24</text><text x="316" y="698" fill="#000" text-anchor="end" font-size="11" font-weight="normal" stroke="#000" stroke-width="0.25">24.4</text><text x="316" y="714" fill="#000" text-anchor="end" font-size="11" font-weight="normal" stroke="#000" stroke-width="0.25">14.61</text><text x="330" y="666" fill="#000" text-anchor="start" font-size="11" font-weight="bold">Luftfeuchte</text><text x="434" y="666" fill="#000" text-anchor="end" font-size="11" font-weight="bold">%</text><text x="330" y="682" fill="#000" text-anchor="start" font-size="11" font-weight="normal" stroke="#000" stroke-width="0.25">08.09.&#160;&#160;14:31</text><text x="434" y="682" fill="#000" text-anchor="end" font-size="11" font-weight="normal" stroke="#000" stroke-width="0.25">50</text><text x="330" y="698" fill="#000" text-anchor="start" font-size="11" font-weight="normal" stroke="#000" stroke-width="0.25">10.09.&#160;&#160;07:45</text><text x="434" y="698" fill="#000" text-anchor="end" font-size="11" font-weight="normal" stroke="#000" stroke-width="0.25">97</text><text x="434" y="714" fill="#000" text-anchor="end" font-size="11" font-weight="normal" stroke="#000" stroke-width="0.25">85</text><text x="448" y="666" fill="#000" text-anchor="start" font-size="11" font-weight="bold">Luftdruck</text><text x="552" y="666" fill="#000" text-anchor="end" font-size="11" font-weight="bold">hPa</text><text x="448" y="682" fill="#000" text-anchor="start" font-size="11" font-weight="normal" stroke="#000" stroke-width="0.25">11.09.&#160;&#160;09:45</text><text x="552" y="682" fill="#000" text-anchor="end" font-size="11" font-weight="normal" stroke="#000" stroke-width="0.25">1001.8</text><text x="448" y="698" fill="#000" text-anchor="start" font-size="11" font-weight="normal" stroke="#000" stroke-width="0.25">08.09.&#160;&#160;00:15</text><text x="552" y="698" fill="#000" text-anchor="end" font-size="11" font-weight="normal" stroke="#000" stroke-width="0.25">1019.6</text><text x="448" y="714" fill="#000" text-anchor="start" font-size="11" font-weight="normal" stroke="#000" stroke-width="0.25">^1.3hPa/h</text><text x="552" y="714" fill="#000" text-anchor="end" font-size="11" font-weight="normal" stroke="#000" stroke-width="0.25">1011.7</text><text x="566" y="666" fill="#000" text-anchor="start" font-size="11" font-weight="bold">Niederschlag</text><text x="670" y="666" fill="#000" text-anchor="end" font-size="11" font-weight="bold">l/m²</text><text x="566" y="682" fill="#000" text-anchor="start" font-size="11" font-weight="normal" stroke="#000" stroke-width="0.25">9:48 h</text><text x="566" y="698" fill="#000" text-anchor="start" font-size="11" font-weight="normal" stroke="#000" stroke-width="0.25">09.09.&#160;&#160;22:01</text><text x="670" y="698" fill="#000" text-anchor="end" font-size="11" font-weight="normal" stroke="#000" stroke-width="0.25">5.6</text><text x="566" y="714" fill="#000" text-anchor="start" font-size="11" font-weight="normal" stroke="#000" stroke-width="0.25">Gesamt:</text><text x="670" y="714" fill="#000" text-anchor="end" font-size="11" font-weight="normal" stroke="#000" stroke-width="0.25">17.4</text><text x="684" y="666" fill="#000" text-anchor="start" font-size="11" font-weight="bold">Windböen</text><text x="788" y="666" fill="#000" text-anchor="end" font-size="11" font-weight="bold">km/h</text><text x="684" y="682" fill="#000" text-anchor="start" font-size="11" font-weight="normal" stroke="#000" stroke-width="0.25">08.09.&#160;&#160;04:57</text><text x="788" y="682" fill="#000" text-anchor="end" font-size="11" font-weight="normal" stroke="#000" stroke-width="0.25">0.0</text><text x="684" y="698" fill="#000" text-anchor="start" font-size="11" font-weight="normal" stroke="#000" stroke-width="0.25">12.09.&#160;&#160;15:43</text><text x="788" y="698" fill="#000" text-anchor="end" font-size="11" font-weight="normal" stroke="#000" stroke-width="0.25">44.9</text><text x="684" y="714" fill="#000" text-anchor="start" font-size="11" font-weight="normal" stroke="#000" stroke-width="0.25">1143.1 km</text><text x="788" y="714" fill="#000" text-anchor="end" font-size="11" font-weight="normal" stroke="#000" stroke-width="0.25">6.8</text><text x="802" y="666" fill="#000" text-anchor="start" font-size="11" font-weight="bold">Solarstrahl.</text><text x="906" y="666" fill="#000" text-anchor="end" font-size="11" font-weight="bold">W/m²</text><text x="802" y="682" fill="#000" text-anchor="start" font-size="11" font-weight="normal" stroke="#000" stroke-width="0.25">Elevation</text><text x="906" y="682" fill="#000" text-anchor="end" font-size="11" font-weight="normal" stroke="#000" stroke-width="0.25">-26.351</text><text x="802" y="698" fill="#000" text-anchor="start" font-size="11" font-weight="normal" stroke="#000" stroke-width="0.25">10.09.&#160;&#160;13:52</text><text x="906" y="698" fill="#000" text-anchor="end" font-size="11" font-weight="normal" stroke="#000" stroke-width="0.25">865</text><text x="802" y="714" fill="#000" text-anchor="start" font-size="11" font-weight="normal" stroke="#000" stroke-width="0.25">38:19 h</text><text x="906" y="714" fill="#000" text-anchor="end" font-size="11" font-weight="normal" stroke="#000" stroke-width="0.25">232.2</text>
</svg>
</body></html>
